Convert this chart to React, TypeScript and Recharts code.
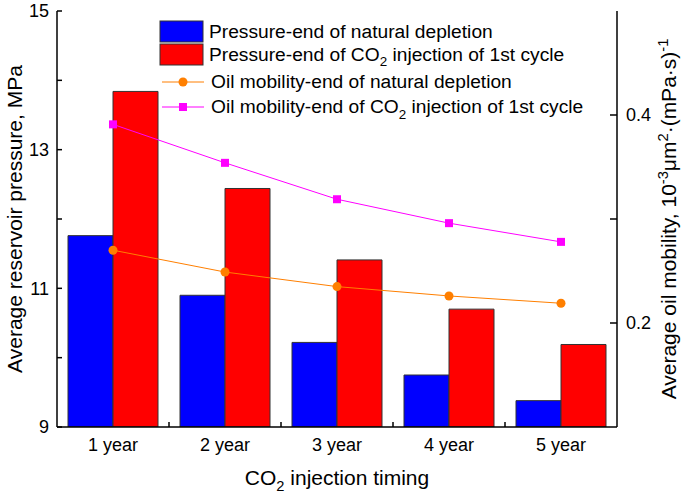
import React from 'react';
import { ComposedChart, Bar, Line, XAxis, YAxis, Legend } from 'recharts';

const categories = ['1 year', '2 year', '3 year', '4 year', '5 year'];
const pressureDepletion = [11.76, 10.9, 10.22, 9.75, 9.38];
const pressureCO2 = [13.84, 12.44, 11.41, 10.7, 10.19];
const mobilityDepletion = [0.27, 0.249, 0.235, 0.226, 0.219];
const mobilityCO2 = [0.391, 0.354, 0.319, 0.296, 0.278];
const pressureTicks = [9, 10, 11, 12, 13, 14, 15];
const mobilityTicks = [0.2, 0.3, 0.4];

const data = categories.map((category, i) => ({
  category,
  pDep: pressureDepletion[i],
  pCO2: pressureCO2[i],
  mDep: mobilityDepletion[i],
  mCO2: mobilityCO2[i],
}));

const FONT = '"Liberation Sans", Arial, sans-serif';
const BLUE = '#0000FF';
const RED = '#FF0000';
const ORANGE = '#FF7F00';
const MAGENTA = '#FF00FF';

const CHART_W = 685;
const CHART_H = 493;
const LEFT_AXIS_W = 57;
const RIGHT_AXIS_W = 68;

// legend order in the reference (bars first, then lines)
const legendOrder = ['pDep', 'pCO2', 'mDep', 'mCO2'];

// renders "CO2" with a subscript 2
function withSub(text: string, size: number) {
  const parts = text.split('CO2');
  const out: any[] = [];
  parts.forEach((p, i) => {
    if (i > 0) {
      out.push(<tspan key={'c' + i}>CO</tspan>);
      out.push(<tspan key={'s' + i} dy={size * 0.3} fontSize={size * 0.7}>2</tspan>);
      out.push(<tspan key={'r' + i} dy={-size * 0.3}>{p}</tspan>);
    } else {
      out.push(<tspan key={'p' + i}>{p}</tspan>);
    }
  });
  return out;
}

const CircleDot = (props: any) => {
  const { cx, cy } = props;
  if (cx == null || cy == null) return null;
  return <circle cx={cx} cy={cy} r={4.5} fill={ORANGE} />;
};

const SquareDot = (props: any) => {
  const { cx, cy } = props;
  if (cx == null || cy == null) return null;
  return <rect x={cx - 4} y={cy - 4} width={8} height={8} fill={MAGENTA} />;
};

const renderLegend = (props: any) => {
  const payload = props.payload || [];
  const fs = 19.2;
  const byKey: any = {};
  payload.forEach((e: any) => { byKey[e.dataKey] = e; });
  return (
    <svg width={CHART_W} height={125} style={{ display: 'block' }} fontFamily={FONT}>
      {legendOrder.map((key, i) => {
        const entry = byKey[key];
        if (!entry) return null;
        if (i < 2) {
          const top = i === 0 ? 21 : 44;
          return (
            <g key={key}>
              <rect x={160} y={top} width={43} height={21} fill={entry.color} stroke="#333" strokeWidth={1} />
              <text x={209} y={top + 16.5} fontSize={fs} fill="#000">{withSub(entry.value, fs)}</text>
            </g>
          );
        }
        const cy = i === 2 ? 82 : 107;
        return (
          <g key={key}>
            <line x1={162} x2={204} y1={cy} y2={cy} stroke={entry.color} strokeWidth={1} />
            {key === 'mDep'
              ? <circle cx={183} cy={cy} r={4.5} fill={ORANGE} />
              : <rect x={179} y={cy - 4} width={8} height={8} fill={MAGENTA} />}
            <text x={211} y={cy + 6} fontSize={fs} fill="#000">{withSub(entry.value, fs)}</text>
          </g>
        );
      })}
    </svg>
  );
};

const leftTitle = (props: any) => {
  const { x, y, height } = props.viewBox;
  const tx = x + 22;
  const ty = y + height / 2;
  return (
    <text x={tx} y={ty} transform={`rotate(-90, ${tx}, ${ty})`} textAnchor="middle" fontSize={21} fontFamily={FONT} fill="#000">
      Average reservoir pressure, MPa
    </text>
  );
};

const rightTitle = (props: any) => {
  const { x, y, height } = props.viewBox;
  const tx = x + 59;
  const ty = y + height / 2;
  const s = 21 * 0.7;
  return (
    <text x={tx} y={ty} transform={`rotate(-90, ${tx}, ${ty})`} textAnchor="middle" fontSize={21} fontFamily={FONT} fill="#000">
      <tspan>Average oil mobility,  10</tspan>
      <tspan dy={-8} fontSize={s}>-3</tspan>
      <tspan dy={8}>μm</tspan>
      <tspan dy={-8} fontSize={s}>2</tspan>
      <tspan dy={8}>·(mPa·s)</tspan>
      <tspan dy={-8} fontSize={s}>-1</tspan>
    </text>
  );
};

// x title, plus small inward ticks at the boundaries between categories
const bottomTitle = (props: any) => {
  const { x, y, width } = props.viewBox;
  const band = width / categories.length;
  return (
    <g>
      {categories.slice(1).map((c, i) => {
        const bx = x + band * (i + 1);
        return <line key={c} x1={bx} x2={bx} y1={y} y2={y - 5} stroke="#000" strokeWidth={1.5} />;
      })}
      <text x={x + width / 2} y={y + 58} textAnchor="middle" fontSize={21} fontFamily={FONT} fill="#000">
        {withSub('CO2 injection timing', 21)}
      </text>
    </g>
  );
};

export default function App() {
  const axisStyle = { stroke: '#000', strokeWidth: 1.5 };
  const tickStyle = { fontSize: 18, fontFamily: FONT, fill: '#000' };
  return (
    <div style={{ position: 'absolute', left: 0, top: 0 }}>
      <ComposedChart width={CHART_W} height={CHART_H} data={data} margin={{ top: 11, right: 0, bottom: 0, left: 0 }} barGap={0} barCategoryGap={11}>
        <XAxis xAxisId="cat" dataKey="category" height={66} tickSize={0} tickMargin={11} tickLine={false} axisLine={axisStyle} tick={tickStyle} interval={0} label={{ content: bottomTitle }} />
        <XAxis xAxisId="top" orientation="top" type="number" domain={[0, 5]} tick={false} tickLine={false} axisLine={axisStyle} height={0} allowDataOverflow />
        <YAxis yAxisId="p" domain={[9, 15]} ticks={pressureTicks} width={LEFT_AXIS_W} tickSize={-5} tickMargin={13} tickLine={axisStyle} axisLine={axisStyle} tick={tickStyle} interval={0}
          tickFormatter={(v: number) => (v % 2 === 1 ? String(v) : '')} allowDataOverflow label={{ content: leftTitle }} />
        <YAxis yAxisId="m" orientation="right" domain={[0.1, 0.5]} ticks={mobilityTicks} width={RIGHT_AXIS_W} tickSize={-7} tickMargin={16} tickLine={axisStyle} axisLine={axisStyle} tick={{ ...tickStyle, textAnchor: 'start' }} interval={0}
          tickFormatter={(v: number) => (Math.abs(v - 0.3) < 1e-6 ? '' : v.toFixed(1))} allowDataOverflow label={{ content: rightTitle }} />
        <Legend layout="vertical" align="center" verticalAlign="middle" content={renderLegend}
          wrapperStyle={{ left: 0, top: 0, width: CHART_W, height: 125 }} />
        <Bar xAxisId="cat" yAxisId="p" dataKey="pDep" name="Pressure-end of natural depletion" fill={BLUE} stroke="#333" strokeWidth={1} isAnimationActive={false} />
        <Bar xAxisId="cat" yAxisId="p" dataKey="pCO2" name="Pressure-end of CO2 injection of 1st cycle" fill={RED} stroke="#333" strokeWidth={1} isAnimationActive={false} />
        <Line xAxisId="cat" yAxisId="m" dataKey="mDep" name="Oil mobility-end of natural depletion" type="linear" stroke={ORANGE} strokeWidth={1} dot={<CircleDot />} activeDot={false} isAnimationActive={false} />
        <Line xAxisId="cat" yAxisId="m" dataKey="mCO2" name="Oil mobility-end of CO2 injection of 1st cycle" type="linear" stroke={MAGENTA} strokeWidth={1} dot={<SquareDot />} activeDot={false} isAnimationActive={false} />
      </ComposedChart>
    </div>
  );
}
